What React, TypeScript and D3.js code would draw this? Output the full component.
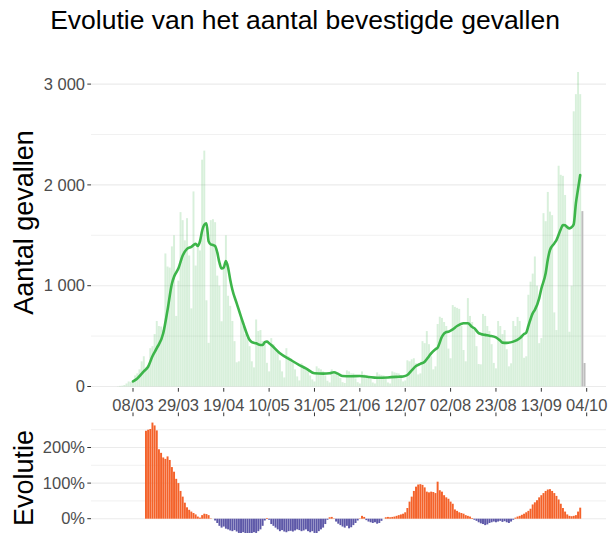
import React from 'react';
import * as d3 from 'd3';

// ---- data ----
const START_UTC = Date.UTC(2020, 2, 1); // day 0 = 01/03/2020
const DAY_MS = 86400000;

// daily confirmed cases, day 0 .. 214
const dailyCases = [
  2, 6, 8, 15, 30, 50, 45,
  40, 110, 130, 170, 250, 300, 190,
  180, 380, 400, 520, 650, 600, 595,
  560, 1320, 1190, 1180, 1390, 1500, 700,
  1050, 1730, 1650, 1450, 1670, 1300, 775,
  1935, 1200, 1400, 1350, 2250, 2340, 855,
  433, 1650, 1660, 1630, 1100, 1000, 647,
  1200, 1500, 900, 800, 650, 450, 240,
  250, 700, 600, 520, 480, 400, 250,
  190, 665, 550, 560, 450, 430, 235,
  150, 480, 420, 370, 340, 260, 150,
  90, 380, 300, 260, 240, 170, 100,
  60, 230, 190, 170, 150, 110, 70,
  50, 200, 180, 170, 150, 110, 57,
  40, 170, 140, 130, 120, 85, 43,
  35, 160, 150, 130, 130, 80, 43,
  30, 150, 120, 110, 105, 75, 40,
  30, 140, 120, 115, 110, 75, 40,
  30, 150, 140, 135, 130, 100, 50,
  60, 260, 250, 270, 280, 230, 120,
  130, 450, 430, 550, 420, 300, 170,
  200, 620, 692, 680, 640, 600, 376,
  280, 808, 790, 780, 770, 600, 362,
  250, 877, 700, 640, 560, 400, 223,
  220, 720, 700, 600, 550, 420, 234,
  180, 650, 600, 520, 560, 370, 200,
  230, 650, 600, 690, 650, 500, 285,
  300, 910, 1040, 1120, 1290, 1000, 430,
  480, 1720, 1640, 1930, 1735, 1700, 735,
  560, 2190, 2100, 2090, 1900, 1600, 543,
  1000, 2730, 2900, 3120, 2900,
];
// last, incomplete days (grey)
const incompleteCases = [1740, 233];

// 7-day average (green line), read at these days
const avgDays = [
  7, 9, 12, 14, 16, 18, 21, 23, 25, 26, 28, 30, 32, 34, 36, 37, 38, 39, 40, 41,
  42, 43, 44, 45, 46, 47, 48, 49, 50, 51, 52, 53, 55, 58, 61, 62, 64, 66, 67, 68,
  69, 70, 71, 75, 80, 84, 87, 91, 95, 98, 100, 102, 104, 108, 112, 116, 120, 125, 130, 132,
  134, 136, 138, 140, 142, 144, 145, 147, 148, 150, 152, 153, 155, 157, 160, 162, 164, 165, 167, 168,
  170, 172, 175, 177, 178, 180, 183, 186, 188, 189, 190, 192, 193, 195, 196, 198, 199, 200, 202, 203,
  205, 206, 207, 208, 209, 210, 211, 212, 213, 214,
];
const avgValues = [
  50, 80, 150, 196, 300, 380, 528, 760, 1020, 1089, 1170, 1300, 1365, 1385, 1415, 1395, 1440, 1545, 1605, 1619,
  1440, 1410, 1404, 1395, 1330, 1230, 1170, 1180, 1245, 1180, 1060, 960, 825, 627, 461, 440, 428, 412, 412, 440,
  445, 430, 412, 329, 263, 213, 180, 131, 128, 131, 141, 125, 104, 102, 104, 95, 87, 90, 97, 100,
  114, 160, 203, 225, 246, 300, 329, 370, 385, 494, 540, 544, 567, 600, 627, 627, 590, 577, 530, 521,
  512, 504, 488, 455, 435, 433, 445, 478, 520, 534, 600, 726, 760, 875, 970, 1123, 1260, 1354, 1420, 1453,
  1560, 1602, 1600, 1580, 1569, 1580, 1610, 1817, 1960, 2098,
];

// week-on-week evolution (%), from day 13 .. 214
const evolutionStartDay = 13;
const evolutionPct = [
  247, 250, 252, 270, 262, 248, 195, 185, 172, 168, 175, 165, 145, 132, 112, 100, 78, 62, 45, 32,
  25, 20, 16, 12, 6, 3, 10, 14, 13, 10, 1, 0, -5, -12, -20, -25, -22, -28, -30, -33,
  -35, -32, -36, -40, -42, -38, -42, -45, -40, -42, -38, -40, -35, -30, -20, -5, 2, -3, -15, -20,
  -25, -30, -35, -32, -36, -38, -35, -34, -36, -33, -30, -32, -35, -33, -30, -35, -38, -35, -40, -42,
  -35, -30, -25, -15, -3, 4, 5, 1, -8, -14, -18, -22, -25, -20, -27, -24, -18, -12, -5, 1,
  8, 5, -4, -8, -10, -12, -10, -14, -12, -6, 0, 4, 5, 4, 5, 6, 8, 10, 12, 14,
  18, 30, 48, 62, 78, 90, 96, 97, 95, 88, 76, 74, 76, 75, 72, 104, 80, 76, 66, 60,
  56, 48, 42, 26, 22, 18, 16, 14, 10, 8, 6, 2, -3, -6, -10, -13, -15, -18, -16, -12,
  -10, -8, -10, -8, -6, -9, -7, -10, -12, -8, -3, 3, 6, 8, 11, 14, 18, 22, 28, 40,
  46, 52, 60, 66, 72, 78, 82, 83, 78, 72, 64, 54, 42, 30, 20, 12, 8, 7, 8, 10,
  20, 31,
];

const xTickDays = [7, 28, 49, 70, 91, 112, 133, 154, 175, 196, 217];
const caseTicks = [0, 1000, 2000, 3000];
const caseGrid = [0, 500, 1000, 1500, 2000, 2500, 3000];
const pctTicks = [0, 100, 200];
const pctGrid = [0, 50, 100, 150, 200, 250];

const TITLE = 'Evolutie van het aantal bevestigde gevallen';
const Y_TITLE_TOP = 'Aantal gevallen';
const Y_TITLE_BOTTOM = 'Evolutie';

// ---- chart ----
const W = 609;
const H = 533;
const FONT = '"Liberation Sans", Arial, Helvetica, sans-serif';
const dayDate = (d: number) => new Date(START_UTC + d * DAY_MS);

export default function App() {
  const panelLeft = 91;
  const panelRight = 606;

  const x = d3.scaleUtc().domain([dayDate(7), dayDate(217)]).range([133, 586.7]);
  const dayW = x(dayDate(1)) - x(dayDate(0));
  const barW = dayW * 0.9;

  const yTop = d3.scaleLinear().domain([0, 3000]).range([386.5, 84.1]);
  const yBot = d3.scaleLinear().domain([0, 250]).range([518.7, 429.7]);

  const loc = d3.formatLocale({ decimal: ',', thousands: ' ', grouping: [3], currency: ['', '€'] });
  const fmtCases = loc.format(',d');
  const fmtDate = d3.utcFormat('%d/%m');

  const lineGen = d3
    .line<number>()
    .x((_, i) => x(dayDate(avgDays[i])))
    .y((v) => yTop(v))
    .curve(d3.curveMonotoneX);

  const tickColor = '#333333';
  const labelColor = '#4d4d4d';

  return (
    <svg
      width={W}
      height={H}
      viewBox={`0 0 ${W} ${H}`}
      style={{ position: 'absolute', left: 0, top: 0, background: '#ffffff' }}
      fontFamily={FONT}
    >
      <rect x={0} y={0} width={W} height={H} fill="#ffffff" />
      <text x={305} y={29} textAnchor="middle" fontSize={26.5} fill="#000">
        {TITLE}
      </text>

      {/* top panel grid */}
      {caseGrid.map((v) => (
        <line
          key={'g' + v}
          x1={panelLeft}
          x2={panelRight}
          y1={yTop(v)}
          y2={yTop(v)}
          stroke="#ebebeb"
          strokeWidth={v % 1000 === 0 ? 1.1 : 0.7}
        />
      ))}

      {/* daily bars */}
      {dailyCases.map((v, i) => (
        <rect
          key={'b' + i}
          x={x(dayDate(i)) - barW / 2}
          y={yTop(v)}
          width={barW}
          height={yTop(0) - yTop(v)}
          fill="#3cb44b"
          fillOpacity={0.2}
        />
      ))}
      {incompleteCases.map((v, i) => {
        const d = dailyCases.length + i;
        return (
          <rect
            key={'gb' + i}
            x={x(dayDate(d)) - barW / 2}
            y={yTop(v)}
            width={barW}
            height={yTop(0) - yTop(v)}
            fill="#bdbdbd"
          />
        );
      })}

      {/* 7-day average */}
      <path d={lineGen(avgValues) || ''} fill="none" stroke="#3db54a" strokeWidth={2.6} strokeLinejoin="round" strokeLinecap="round" />

      {/* top y axis */}
      {caseTicks.map((v) => (
        <g key={'yt' + v}>
          <line x1={87.3} x2={91} y1={yTop(v)} y2={yTop(v)} stroke={tickColor} strokeWidth={1} />
          <text x={85} y={yTop(v)} dy="0.35em" textAnchor="end" fontSize={16.5} fill={labelColor}>
            {fmtCases(v)}
          </text>
        </g>
      ))}

      {/* x axis */}
      {xTickDays.map((d) => {
        const xx = x(dayDate(d));
        return (
          <g key={'xt' + d}>
            <line x1={xx} x2={xx} y1={388} y2={391.7} stroke={tickColor} strokeWidth={1} />
            <text x={xx} y={410.5} textAnchor="middle" fontSize={16.5} fill={labelColor}>
              {fmtDate(dayDate(d))}
            </text>
            <line x1={xx} x2={xx} y1={412.5} y2={416.2} stroke={tickColor} strokeWidth={1} />
          </g>
        );
      })}

      <text transform="translate(33,222.5) rotate(-90)" textAnchor="middle" fontSize={27} fill="#000">
        {Y_TITLE_TOP}
      </text>

      {/* bottom panel grid */}
      {pctGrid.map((v) => (
        <line
          key={'pg' + v}
          x1={panelLeft}
          x2={panelRight}
          y1={yBot(v)}
          y2={yBot(v)}
          stroke="#ebebeb"
          strokeWidth={v % 100 === 0 ? 1.1 : 0.7}
        />
      ))}

      {/* evolution bars */}
      {evolutionPct.map((v, i) => {
        const d = evolutionStartDay + i;
        const y0 = yBot(0);
        const y1 = yBot(v);
        return (
          <rect
            key={'e' + i}
            x={x(dayDate(d)) - barW / 2}
            y={Math.min(y0, y1)}
            width={barW}
            height={Math.abs(y1 - y0)}
            fill={v >= 0 ? '#f4622a' : '#5d58a8'}
          />
        );
      })}

      {pctTicks.map((v) => (
        <g key={'pt' + v}>
          <line x1={87.3} x2={91} y1={yBot(v)} y2={yBot(v)} stroke={tickColor} strokeWidth={1} />
          <text x={85} y={yBot(v)} dy="0.35em" textAnchor="end" fontSize={16.5} fill={labelColor}>
            {v + '%'}
          </text>
        </g>
      ))}

      <text transform="translate(33,478) rotate(-90)" textAnchor="middle" fontSize={27} fill="#000">
        {Y_TITLE_BOTTOM}
      </text>
    </svg>
  );
}
